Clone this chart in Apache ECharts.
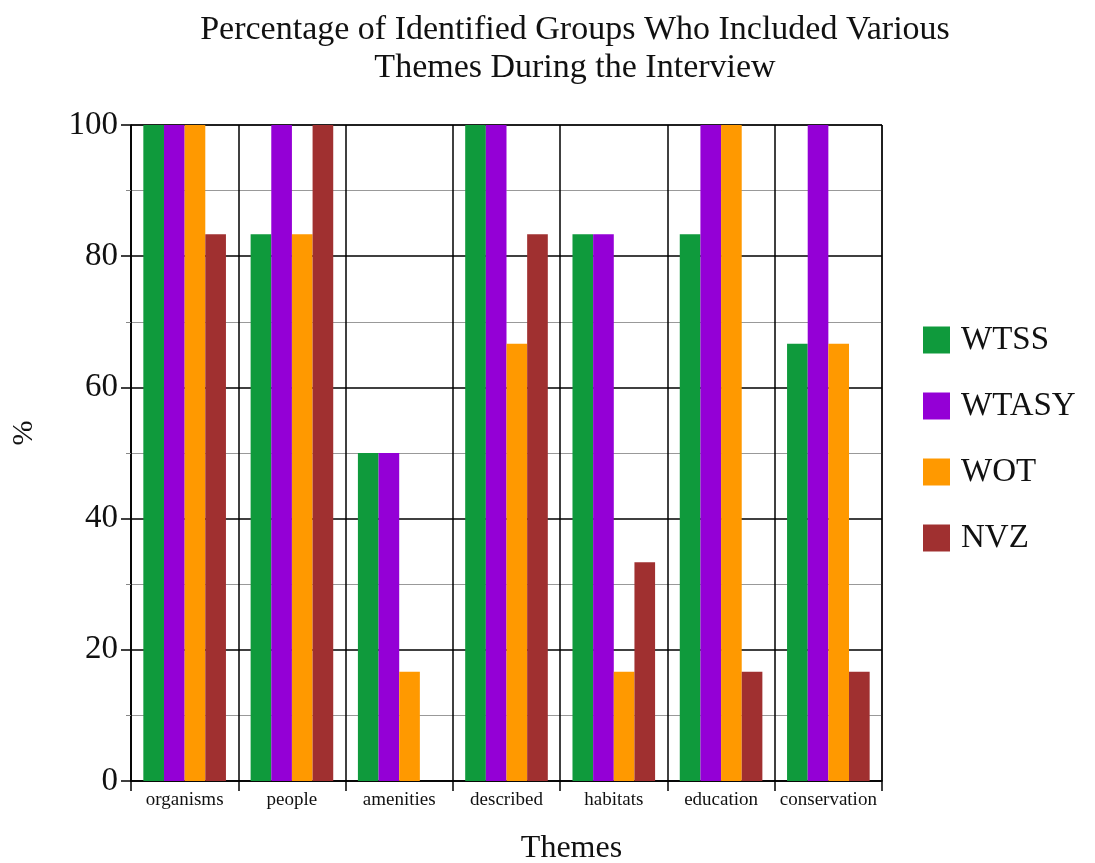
<!DOCTYPE html>
<html><head><meta charset="utf-8">
<script src="https://cdn.jsdelivr.net/npm/echarts@6/dist/echarts.min.js"></script>
<style>html,body{margin:0;padding:0;background:#fff}#c{width:1095px;height:863px}</style>
</head><body><div id="c"></div>
<script>
var categories = ['organisms','people','amenities','described','habitats','education','conservation'];
var seriesNames = ['WTSS','WTASY','WOT','NVZ'];
var WTSS  = [100, 83.33, 50, 100, 83.33, 83.33, 66.67];
var WTASY = [100, 100, 50, 100, 83.33, 100, 100];
var WOT   = [100, 83.33, 16.67, 66.67, 16.67, 100, 66.67];
var NVZ   = [83.33, 100, 0, 83.33, 33.33, 16.67, 16.67];
var colors = ['#0f9a3c', '#9400d6', '#ff9900', '#a03030'];
var values = [WTSS, WTASY, WOT, NVZ];
var font = '"Liberation Serif", "DejaVu Serif", serif';
var chart = echarts.init(document.getElementById('c'));
chart.setOption({
  animation: false,
  textStyle: {fontFamily: font},
  title: {
    text: 'Percentage of Identified Groups Who Included Various\nThemes During the Interview',
    left: 570, textAlign: 'center', top: 6,
    textStyle: {fontFamily: font, fontSize: 34, fontWeight: 'normal', color: '#111', lineHeight: 38}
  },
  legend: {
    orient: 'vertical', left: 918, top: 318, itemWidth: 27, itemHeight: 27, itemGap: 32,
    icon: 'rect',
    textStyle: {fontFamily: font, fontSize: 33, lineHeight: 34, color: '#111', padding: [0,0,0,6]},
    data: seriesNames
  },
  grid: {left: 131, right: 213, top: 125, bottom: 82, outerBoundsMode: 'none', containLabel: false,
    show: true, borderColor: '#000', borderWidth: 1},
  xAxis: {
    type: 'category', data: categories,
    name: 'Themes', nameLocation: 'middle', nameGap: 52,
    nameTextStyle: {fontFamily: font, fontSize: 32, color: '#111', padding: [0,0,0,130]},
    axisLine: {lineStyle: {color: '#000', width: 1.5}},
    axisTick: {show: true, interval: 0, length: 10, lineStyle: {color: '#000', width: 1.5}},
    axisLabel: {interval: 0, fontFamily: font, fontSize: 19, color: '#111', margin: 10},
    splitLine: {show: true, interval: 0, lineStyle: {color: '#000', width: 1.5}}
  },
  yAxis: {
    type: 'value', min: 0, max: 100, interval: 20,
    name: '%', nameLocation: 'middle', nameGap: 92, nameRotate: 90,
    nameTextStyle: {fontFamily: font, fontSize: 30, color: '#111', padding: [0,0,0,40]},
    axisLine: {show: true, lineStyle: {color: '#000', width: 1.5}},
    axisTick: {show: true, length: 10, lineStyle: {color: '#000', width: 1.5}},
    minorTick: {show: true, splitNumber: 2, length: 5, lineStyle: {color: '#888'}},
    minorSplitLine: {show: true, lineStyle: {color: '#999', width: 1}},
    axisLabel: {fontFamily: font, fontSize: 33, color: '#111', margin: 13},
    splitLine: {show: true, lineStyle: {color: '#000', width: 1.5}}
  },
  series: seriesNames.map(function(n, i){
    return {name: n, type: 'bar', data: values[i], barGap: '0%', barCategoryGap: '23%',
      itemStyle: {color: colors[i]}};
  })
});
</script></body></html>
